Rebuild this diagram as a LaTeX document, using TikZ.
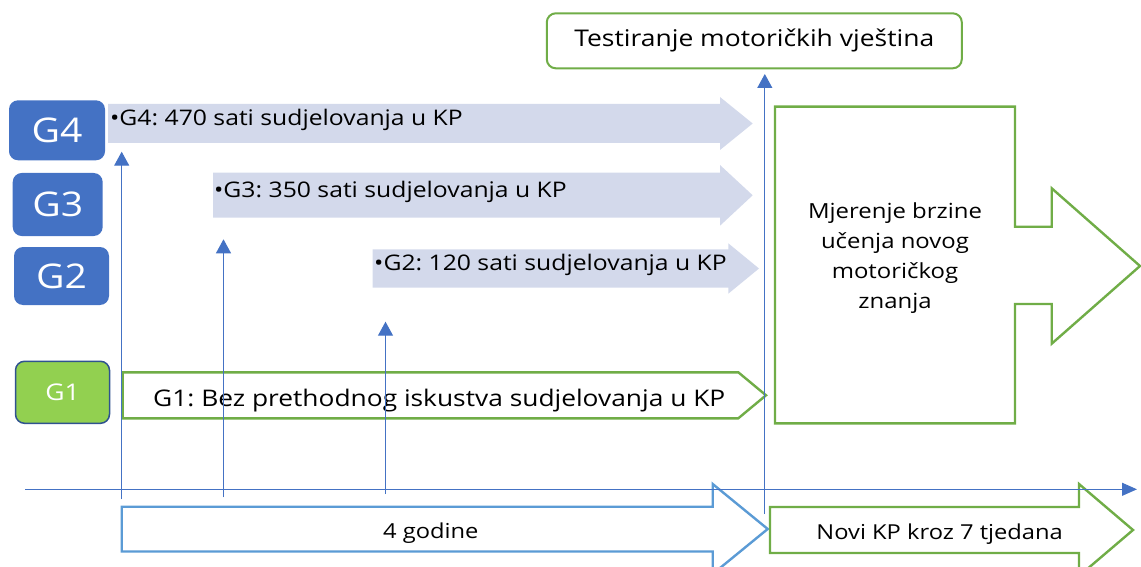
\documentclass[tikz,border=0pt]{standalone}
\usepackage{fontspec}
\setmainfont[FakeStretch=1.15]{Open Sans}
\usetikzlibrary{arrows.meta}
\definecolor{gblue}{HTML}{4472C4}
\definecolor{lav}{HTML}{D3D9EB}
\definecolor{ggreen}{HTML}{70AD47}
\definecolor{lgreen}{HTML}{92D050}
\definecolor{dblue}{HTML}{2F528F}
\definecolor{sblue}{HTML}{5B9BD5}
\frenchspacing
\begin{document}
\begin{tikzpicture}[x=1pt,y=-1pt,
  gbox/.style={fill=gblue, rounded corners=9pt, text=white, inner sep=0pt,
    font=\fontsize{34}{40}\selectfont},
  lavarrow/.style={fill=lav, draw=none},
  grnshape/.style={draw=ggreen, line width=2.4pt, fill=white},
  blushape/.style={draw=sblue, line width=2.4pt, fill=white},
  armtxt/.style={inner sep=0pt, font=\fontsize{21.5}{24}\selectfont},
  bottxt/.style={inner sep=0pt, font=\fontsize{20.6}{24}\selectfont},
  vline/.style={draw=gblue, line width=1.1pt, -{Triangle[length=14pt,width=15pt]}},
  axisline/.style={draw=gblue, line width=1.1pt, -{Triangle[length=15pt,width=13pt]}}]
\useasboundingbox (0,0) rectangle (1141,567);

% group boxes
\node[gbox, minimum width=96pt, minimum height=60pt] (g4) at (57,130.3) {G4};
\node[gbox, minimum width=90pt, minimum height=63pt] (g3) at (57.7,204.5) {G3};
\node[gbox, minimum width=95pt, minimum height=58pt] (g2) at (61.5,276) {G2};
\node[fill=lgreen, draw=dblue, line width=1.5pt, rounded corners=9pt, text=white,
  inner sep=0pt, minimum width=94pt, minimum height=62pt,
  font=\fontsize{23}{26}\selectfont] (g1) at (62.5,392.3) {G1};

% lavender arrows
\path[lavarrow] (108,104) -- (720,104) -- (720,97) -- (752.7,123.5) -- (720,150) -- (720,143) -- (108,143) -- cycle;
\path[lavarrow] (213,172.7) -- (720,172.7) -- (720,165) -- (752.7,195.3) -- (720,225.7) -- (720,217.7) -- (213,217.7) -- cycle;
\path[lavarrow] (372.7,249.3) -- (728.3,249.3) -- (728.3,243.3) -- (759,268.5) -- (728.3,293.7) -- (728.3,287.7) -- (372.7,287.7) -- cycle;
\node[armtxt, anchor=base west] (t4) at (110,125.5) {•G4: 470 sati sudjelovanja u KP};
\node[armtxt, anchor=base west] (t3) at (214,197) {•G3: 350 sati sudjelovanja u KP};
\node[armtxt, anchor=base west] (t2) at (374,270.5) {•G2: 120 sati sudjelovanja u KP};

% G1 pentagon
\path[grnshape] (122.7,372.3) -- (738.3,372.3) -- (766,395.3) -- (738.3,418.3) -- (122.7,418.3) -- cycle;
\node[inner sep=0pt, font=\fontsize{22.9}{26}\selectfont, anchor=base west] (t1) at (153,406.7)
  {G1: Bez prethodnog iskustva sudjelovanja u KP};

% testing box
\node[draw=ggreen, line width=2pt, rounded corners=9pt, fill=white, inner sep=0pt,
  minimum width=415pt, minimum height=55pt, font=\fontsize{23}{26}\selectfont]
  (test) at (754.3,40.8) {Testiranje motoričkih vještina};

% measurement callout arrow
\path[grnshape] (775,106.7) -- (1015,106.7) -- (1015,226.7) -- (1051.7,226.7) -- (1051.7,188.3)
  -- (1140,266) -- (1051.7,343.7) -- (1051.7,304) -- (1015,304) -- (1015,423.3) -- (775,423.3) -- cycle;
\node[inner sep=0pt, align=center, font=\fontsize{20.8}{30}\selectfont, anchor=base] (mj) at (895,308)
  {Mjerenje brzine\\učenja novog\\motoričkog\\znanja};

% bottom arrows
\path[blushape] (121.7,506.7) -- (712.7,506.7) -- (712.7,484) -- (767.7,529) -- (712.7,574) -- (712.7,551.5) -- (121.7,551.5) -- cycle;
\node[bottxt, anchor=base west] (god) at (383,538) {4 godine};
\path[grnshape] (770,507) -- (1079,507) -- (1079,484) -- (1133,530) -- (1079,576) -- (1079,553) -- (770,553) -- cycle;
\node[bottxt, anchor=base east] (novi) at (1063,539) {Novi KP kroz 7 tjedana};

% axis and vertical markers
\coordinate (ax0) at (25,489.3);
\coordinate (ax1) at (1137,489.3);
\draw[axisline] (ax0) -- (ax1);
\coordinate (v1b) at (121.7,499.3); \coordinate (v1t) at (121.7,151.7);
\coordinate (v2b) at (223.5,497.3); \coordinate (v2t) at (223.5,239.3);
\coordinate (v3b) at (385.5,494);   \coordinate (v3t) at (385.5,321.7);
\coordinate (v4b) at (764.8,514);   \coordinate (v4t) at (764.8,74);
\draw[vline] (v1b) -- (v1t);
\draw[vline] (v2b) -- (v2t);
\draw[vline] (v3b) -- (v3t);
\draw[vline] (v4b) -- (v4t);
\end{tikzpicture}
\end{document}
